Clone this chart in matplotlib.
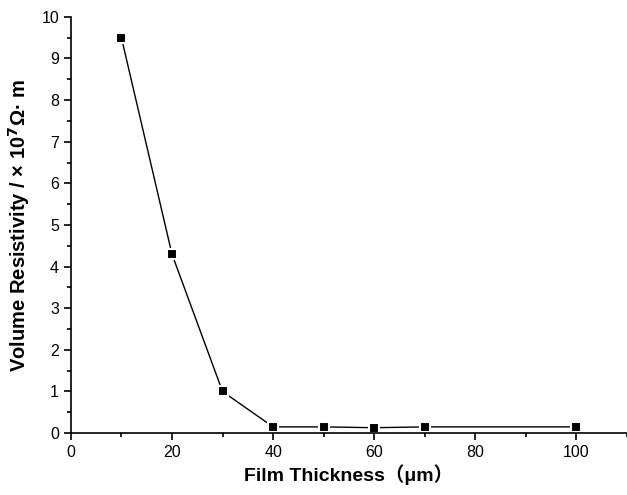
import matplotlib
matplotlib.use('Agg')
import matplotlib.pyplot as plt
from matplotlib.ticker import MultipleLocator

# 膜厚 vs 体积电阻率
thickness = [10, 20, 30, 40, 50, 60, 70, 100]
resistivity = [9.5, 4.3, 1.0, 0.15, 0.15, 0.13, 0.15, 0.15]

plt.rcParams['font.family'] = ['Liberation Sans', 'Noto Sans CJK SC', 'DejaVu Sans']

fig = plt.figure(figsize=(6.27, 4.95), dpi=100)
ax = fig.add_axes([0.113, 0.125, 0.887, 0.841])

ax.plot(thickness, resistivity, color='black', lw=1, marker='s', ms=7,
        mfc='black', mec='white', mew=1.5)

ax.set_xlim(0, 110)
ax.set_ylim(0, 10)
ax.xaxis.set_major_locator(MultipleLocator(20))
ax.xaxis.set_minor_locator(MultipleLocator(10))
ax.yaxis.set_major_locator(MultipleLocator(1))
ax.yaxis.set_minor_locator(MultipleLocator(0.5))
ax.tick_params(which='major', length=5, width=1.2, labelsize=11.5)
ax.tick_params(which='minor', length=3, width=1.2)

ax.spines['top'].set_visible(False)
ax.spines['right'].set_visible(False)
ax.spines['left'].set_linewidth(1.2)
ax.spines['bottom'].set_linewidth(1.2)

ax.set_xlabel('Film Thickness\uff08\u03bcm\uff09', fontsize=14, fontweight='bold', labelpad=3)
ax.set_ylabel('Volume Resistivity / \u00d7 10$^{\\mathbf{7}}$\u03a9\u00b7 m', fontsize=14.5,
              fontweight='bold', labelpad=7)

fig.savefig('out.png', dpi=100)
